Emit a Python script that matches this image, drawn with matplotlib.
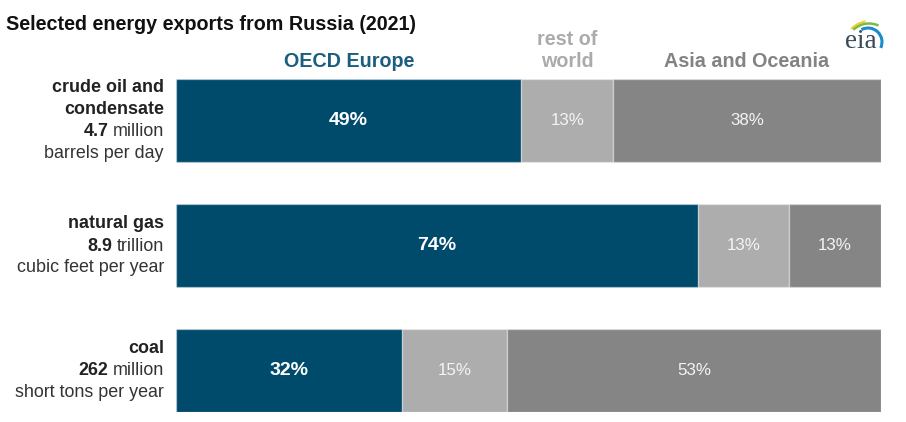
import matplotlib
matplotlib.use("Agg")
import matplotlib.pyplot as plt
from matplotlib.patches import Arc
import numpy as np

# ---- data ----
categories = ["crude oil and\ncondensate", "natural gas", "coal"]
amounts = ["4.7", "8.9", "262"]
amount_units = ["million", "trillion", "million"]
unit_lines = ["barrels per day", "cubic feet per year", "short tons per year"]
regions = ["OECD Europe", "rest of\nworld", "Asia and Oceania"]
oecd_europe = [49, 74, 32]
rest_of_world = [13, 13, 15]
asia_oceania = [38, 13, 53]
title = "Selected energy exports from Russia (2021)"

W, H = 906, 422
fig = plt.figure(figsize=(W / 100, H / 100), dpi=100)
plt.rcParams["font.family"] = ["Liberation Sans", "DejaVu Sans"]

def fx(x):
    return x / W

def fy(y):
    return 1 - y / H

# axes geometry (pixels)
ax_l, ax_r, ax_t, ax_b = 176, 881, 79, 412
ax = fig.add_axes([fx(ax_l), fy(ax_b), fx(ax_r) - fx(ax_l), fy(ax_t) - fy(ax_b)])
bar_h = 0.664
ax.set_xlim(0, 100)
ax.set_ylim(2 + bar_h / 2, -bar_h / 2)
ax.axis("off")

colors = ["#004B6B", "#ADADAD", "#858585"]
series = [oecd_europe, rest_of_world, asia_oceania]
ypos = np.arange(len(categories))
left = np.zeros(len(categories))
for si, (vals, col) in enumerate(zip(series, colors)):
    vals = np.array(vals, dtype=float)
    ax.barh(ypos, vals, left=left, height=bar_h, color=col,
            edgecolor=(1, 1, 1, 0.35), linewidth=1.0)
    for i, v in enumerate(vals):
        cx = left[i] + v / 2
        if si == 0:
            ax.text(cx, ypos[i], f"{int(v)}%", ha="center", va="center",
                    color="white", fontsize=14, fontweight="bold")
        else:
            ax.text(cx, ypos[i], f"{int(v)}%", ha="center", va="center",
                    color="#F4F4F4", fontsize=12.2)
    left += vals

# header labels above first bar, centered over first bar's segments
hdr_colors = ["#1B5E80", "#ABABAB", "#838383"]
first_left = 0.0
for si, vals in enumerate(series):
    v = vals[0]
    cx_data = first_left + v / 2
    first_left += v
    cx_px = ax_l + (ax_r - ax_l) * cx_data / 100
    lines = regions[si].split("\n")
    n = len(lines)
    for li, line in enumerate(lines):
        base = 67 - 22 * (n - 1 - li)
        fig.text(fx(cx_px), fy(base), line, ha="center", va="baseline",
                 fontsize=14.2, fontweight="bold", color=hdr_colors[si])

# title
fig.text(fx(6), fy(30), title, ha="left", va="baseline",
         fontsize=14.2, fontweight="bold", color="#111111")

# left labels
fig.canvas.draw()
renderer = fig.canvas.get_renderer()
lab_x = 164
lab_fs = 12.9
lab_col = "#333333"
bar_centers_px = [ax_t + (ax_b - ax_t) * (y + bar_h / 2) / (2 + bar_h) for y in ypos]
for i in range(len(categories)):
    cat_lines = categories[i].split("\n")
    all_n = len(cat_lines) + 2
    c = bar_centers_px[i]
    bases = [c + 5 + 22 * (k - (all_n - 1) / 2) for k in range(all_n)]
    for k, line in enumerate(cat_lines):
        fig.text(fx(lab_x), fy(bases[k]), line, ha="right", va="baseline",
                 fontsize=lab_fs, fontweight="bold", color="#222222")
    k = len(cat_lines)
    t_unit = fig.text(fx(lab_x), fy(bases[k]), amount_units[i], ha="right",
                      va="baseline", fontsize=lab_fs, color=lab_col)
    bb = t_unit.get_window_extent(renderer=renderer)
    fig.text((bb.x0 - 4.5) / W, fy(bases[k]), amounts[i], ha="right", va="baseline",
             fontsize=lab_fs, fontweight="bold", color="#222222")
    fig.text(fx(lab_x), fy(bases[k + 1]), unit_lines[i], ha="right",
             va="baseline", fontsize=lab_fs, color=lab_col)

# eia logo (pixel-based small axes, y up = -pixel y)
lx0, lx1, ly0, ly1 = 836, 890, 12, 56
lax = fig.add_axes([fx(lx0), fy(ly1), fx(lx1) - fx(lx0), fy(ly0) - fy(ly1)])
lax.set_xlim(lx0, lx1)
lax.set_ylim(-ly1, -ly0)
lax.axis("off")
lax.text(861, -48, "eia", ha="center", va="baseline", fontsize=19.5,
         family=["Liberation Serif", "DejaVu Serif"], color="#3A4A58")
lax.add_patch(Arc((870, -47), 52, 52, theta1=100, theta2=136, color="#F2D022", lw=1.5))
lax.add_patch(Arc((869, -46), 45, 45, theta1=65, theta2=134, color="#7DBB42", lw=1.8))
lax.add_patch(Arc((868, -42), 28, 28, theta1=-25, theta2=118, color="#1B8BC9", lw=2.2))

fig.savefig("out.png", dpi=100)
